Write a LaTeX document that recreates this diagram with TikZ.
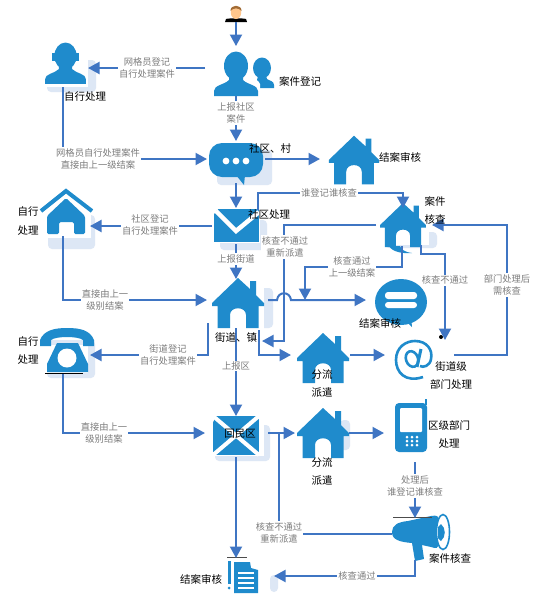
\documentclass[tikz,border=0pt]{standalone}
\usepackage{fontspec}
\setmainfont{Noto Sans CJK SC}
\usetikzlibrary{arrows.meta}
\definecolor{ic}{HTML}{1F8BCC}
\definecolor{ln}{HTML}{3F75C3}
\definecolor{sh}{HTML}{DDE7F5}
\definecolor{gt}{HTML}{7C7C7C}
\tikzset{
  conn/.style={draw=ln,line width=2pt,line join=miter},
  arr/.style={conn,-{Triangle[length=11.5pt,width=12pt]}},
  glabel/.style={text=gt,fill=white,inner sep=1.2pt,align=center,font=\fontsize{9.3}{12.6}\selectfont},
  blabel/.style={text=black,inner sep=0pt,align=center,font=\fontsize{10.5}{18}\selectfont},
  shad/.style={fill=sh,rounded corners=4pt,draw=none},
  blk/.style={fill=white,draw=none},
  icon/.style={fill=ic,draw=none}
}
\newcommand{\houseicon}[3]{% cx cy scale
 \begin{scope}[shift={(#1,#2)},scale=#3]
  \fill[ic] (0,-25) -- (12,-14) -- (12,-22) -- (18,-22) -- (18,-8) -- (26,0) -- (26,3) -- (20.5,3) -- (20.5,25) -- (8,25) -- (8,12) .. controls (8,3) and (-8,3) .. (-8,12) -- (-8,25) -- (-20.5,25) -- (-20.5,3) -- (-26,3) -- (-26,0) -- cycle;
 \end{scope}}
\newcommand{\personicon}[3]{%
 \begin{scope}[shift={(#1,#2)},scale=#3]
  \fill[ic] (0,14) ellipse (12 and 14.5);
  \fill[ic] (-22,44) -- (-22,39) .. controls (-22,33) and (-12,33) .. (-7,28) -- (-7,20) -- (7,20) -- (7,28) .. controls (12,33) and (22,33) .. (22,39) -- (22,44) -- cycle;
 \end{scope}}
\begin{document}
\begin{tikzpicture}[x=1pt,y=-1pt]
\useasboundingbox (0,0) rectangle (538,595);
\fill[white] (0,0) rectangle (538,595);

% shadows
\fill[shad] (47,60) rectangle (96,92);
\fill[shad] (217,150) rectangle (272,185);
\fill[shad] (48,215) rectangle (95,249);
\fill[shad] (220,220) rectangle (267,250);
\fill[shad] (385,232) rectangle (437,248);
\fill[shad] (215,288) rectangle (273,328);
\fill[shad] (47,340) rectangle (95,378);
\fill[shad] (215,425) rectangle (270,461);
\fill[shad] (340,420) rectangle (350,450);
\fill[shad] (270,575) rectangle (278,592);

% white cut-outs behind icons
\fill[blk] (44,38) rectangle (88,87);
\fill[blk] (44,208) rectangle (91,238);
\fill[blk] (44,345) rectangle (88,373);
\fill[blk] (206,278) rectangle (264,330);
\fill[blk] (211,416) rectangle (264,456);
\fill[blk] (211,209) rectangle (260,243);
\fill[blk] (380,210) rectangle (429,245);

% top person
\fill[black] (225,22) -- (226,19) .. controls (230,18) and (242,18) .. (246,19) -- (247,22) -- cycle;
\fill[orange!45!white] (236,12.5) ellipse (5.2 and 6.5);
\fill[brown!85!black] (230.5,11) .. controls (230,4) and (242,4) .. (241.5,11) .. controls (239,7.5) and (233,7.5) .. (230.5,11) -- cycle;

% two persons
\fill[ic] (262,68) ellipse (9 and 10.5);
\fill[ic] (255,88) -- (258,76) -- (266,76) -- (267,79) .. controls (270,81) and (274,81) .. (274,85) -- (274,88) -- cycle;
\fill[white] (214,97) -- (214,85) .. controls (224,80) and (232,78) .. (232,72) -- (240,72) .. controls (246,76) and (258,78) .. (260,84) -- (260,97) -- cycle;
\personicon{236}{52}{1}
% grid person with headset
\personicon{65.5}{43}{.93}
\fill[ic] (52,53) rectangle (55,61); \fill[ic] (76,53) rectangle (79,61);

% chat bubble
\fill[ic,rounded corners=13pt] (209,143) rectangle (263,177);
\fill[ic] (236,175) -- (245,175) -- (244,185) -- cycle;
\foreach \x in {226,236,246}{\fill[white] (\x,161) circle (3.4);}

% result house
\houseicon{354}{160}{0.97}
% envelope
\fill[ic] (214,209) rectangle (259,242);
\fill[white] (213,208) -- (219,208) -- (214,214) -- cycle;
\draw[white,line width=4.5pt] (216,211) -- (236,231) -- (259,212);
% outline house
\draw[ic,line width=4pt] (41,211) -- (66,191) -- (92,211);
\fill[ic,rounded corners=1.5pt] (66,198) -- (85,216) -- (85,234) -- (74,234) -- (74,222) -- (59,222) -- (59,234) -- (47,234) -- (47,216) -- cycle;
% check house
\houseicon{403}{225}{0.88}
\fill[ic] (389,246) .. controls (392,252) and (404,254) .. (412,253) .. controls (404,252) and (401,249) .. (400,246) -- cycle;
% street house
\houseicon{238}{303}{1}
% chat2
\fill[ic] (401,302) ellipse (26 and 23);
\fill[ic] (405,320) -- (412,327) -- (411,317) -- cycle;
\fill[white,rounded corners=3pt] (385,292) rectangle (417,299);
\fill[white,rounded corners=3pt] (385,302) rectangle (417,308);
% split houses
\houseicon{323}{358}{1}
\houseicon{323}{433}{1}
% @ sign
\draw[ic,line width=2.6pt] (423,377) .. controls (405,383) and (396,372) .. (396,360) .. controls (396,347) and (406,341) .. (415,341) .. controls (427,341) and (433,350) .. (431,359) .. controls (430,366) and (423,368) .. (420,366);
\draw[ic,line width=2.6pt,rotate around={20:(412,359)}] (412,359) ellipse (6 and 8);
\draw[ic,line width=3pt] (421,349) -- (417,367);
% telephone
\fill[ic] (40,346) -- (40,340) .. controls (44,330) and (55,328) .. (67,328) .. controls (80,328) and (90,330) .. (94,340) -- (94,346) -- (83,346) -- (83,340) .. controls (78,336) and (56,336) .. (51,340) -- (51,346) -- cycle;
\fill[ic] (57,343) -- (78,343) -- (88,364) -- (88,372) -- (47,372) -- (47,364) -- cycle;
\fill[white] (67,358) circle (9.5);
\draw[black,line width=.4pt] (45,373) -- (83,373);
% x envelope
\fill[ic] (213,416) rectangle (259,455);
\draw[white,line width=4pt] (213,416) -- (259,455);
\draw[white,line width=4pt] (259,416) -- (213,455);
\fill[white] (213,416) -- (214,420) -- (213,422) -- cycle;
% mobile
\fill[ic,rounded corners=4pt] (395,403) rectangle (427,452);
\fill[ic] (425,399) rectangle (427,405);
\fill[white,rounded corners=1pt] (400,408) rectangle (422,432);
\foreach \x in {407,412,417}\foreach \y in {437,441,445}{\fill[white] (\x,\y) circle (1.5);}
% megaphone
\draw[ic,line width=1.6pt,fill=white] (443,532) ellipse (6.5 and 17.5);
\fill[ic] (392,532) .. controls (392,525) and (398,522) .. (408,521) -- (431,516) .. controls (437,515) and (439,516) .. (438,520) .. controls (436,528) and (436,538) .. (438,544) .. controls (439,548) and (436,549) .. (431,547) -- (422,545) -- (424,559) -- (415,561) -- (412,543) .. controls (400,542) and (392,540) .. (392,532) -- cycle;
\fill[ic] (441,524) .. controls (446,528) and (446,537) .. (441,541) -- (438,538) -- (438,527) -- cycle;
\draw[black!70,line width=.4pt] (393,517) -- (432,517);
% document
\fill[ic] (228,561) rectangle (230.5,584);
\fill[ic] (229.2,588) circle (1.5);
\fill[ic] (234,562) -- (250,562) -- (251,568) -- (258,570) -- (258,593) -- (234,593) -- cycle;
\foreach \y in {572,577,582,587}{\fill[white] (238,\y) rectangle (254,\y+2.4);}
\draw[black!70,line width=.4pt] (227,557) -- (247,557);

% connector points
\coordinate (top) at (236,22); \coordinate (perT) at (236,46);
\coordinate (perL) at (205,68); \coordinate (gridR) at (88,68);
\coordinate (perB) at (236,96); \coordinate (chatT) at (236,141);
\coordinate (gridB) at (63,87); \coordinate (g1) at (63,159); \coordinate (chatL) at (207,159);
\coordinate (chatR) at (265,159); \coordinate (resL) at (320,159);
\coordinate (chatB) at (236,183); \coordinate (envT) at (236,208);
\coordinate (envUp) at (258,210); \coordinate (e1) at (258,193); \coordinate (e2) at (403,193); \coordinate (chkT) at (403,208);
\coordinate (envL) at (212,226); \coordinate (ohR) at (90,226);
\coordinate (envB) at (236,244); \coordinate (strT) at (236,279);
\coordinate (ohB) at (63,236); \coordinate (o1) at (63,300); \coordinate (strL) at (207,300);
\coordinate (chkL) at (376,225); \coordinate (c1) at (284,225); \coordinate (c2) at (284,341); \coordinate (strR2) at (262,341);
\coordinate (chkB) at (402,246); \coordinate (c3) at (402,267); \coordinate (c4) at (305,267); \coordinate (c5) at (305,300);
\coordinate (chkB2) at (421,245); \coordinate (c6) at (421,254); \coordinate (c7) at (445,254); \coordinate (atT) at (445,340);
\coordinate (strR) at (268,300); \coordinate (h1) at (277,300); \coordinate (h2) at (291,300); \coordinate (ch2L) at (366,300);
\coordinate (strB2) at (259,330); \coordinate (s1) at (259,355); \coordinate (splL) at (291,355);
\coordinate (splR) at (350,355); \coordinate (atL) at (385,355);
\coordinate (atR) at (454,355); \coordinate (a1) at (507,355); \coordinate (a2) at (507,225); \coordinate (chkR) at (432,225);
\coordinate (strLB) at (208,323); \coordinate (s2) at (208,355); \coordinate (telR) at (90,355);
\coordinate (telB) at (63,374); \coordinate (t1) at (63,433); \coordinate (xL) at (205,433);
\coordinate (strB) at (236,328); \coordinate (xT) at (236,416);
\coordinate (xR) at (268,433); \coordinate (spl2L) at (295,433);
\coordinate (spl2R) at (349,433); \coordinate (mobL) at (384,433);
\coordinate (mobB) at (415,462); \coordinate (megT) at (415,518);
\coordinate (megL) at (392,534); \coordinate (m1) at (279,534); \coordinate (m2) at (279,433);
\coordinate (xB) at (236,457); \coordinate (docT) at (236,558);
\coordinate (megB) at (415,560); \coordinate (m3) at (415,576); \coordinate (docR) at (274,576);

% connectors
\fill[black] (441,337) circle (2);
\draw[arr] (top) -- (perT);
\draw[arr] (perL) -- (gridR);
\draw[arr] (perB) -- (chatT);
\draw[arr] (gridB) -- (g1) -- (chatL);
\draw[arr] (chatR) -- (resL);
\draw[arr] (chatB) -- (envT);
\draw[arr] (envUp) -- (e1) -- (e2) -- (chkT);
\draw[arr] (envL) -- (ohR);
\draw[arr] (envB) -- (strT);
\draw[arr] (ohB) -- (o1) -- (strL);
\draw[arr] (chkL) -- (c1) -- (c2) -- (strR2);
\draw[arr] (chkB) -- (c3) -- (c4) -- (c5);
\draw[arr] (chkB2) -- (c6) -- (c7) -- (atT);
\draw[arr] (strR) -- (h1) .. controls (278,291) and (290,291) .. (h2) -- (ch2L);
\draw[arr] (strB2) -- (s1) -- (splL);
\draw[arr] (splR) -- (atL);
\draw[arr] (atR) -- (a1) -- (a2) -- (chkR);
\draw[arr] (strLB) -- (s2) -- (telR);
\draw[arr] (telB) -- (t1) -- (xL);
\draw[arr] (strB) -- (xT);
\draw[arr] (xR) -- (spl2L);
\draw[arr] (spl2R) -- (mobL);
\draw[arr] (mobB) -- (megT);
\draw[conn] (megL) -- (m1) -- (m2);
\draw[arr] (xB) -- (docT);
\draw[arr] (megB) -- (m3) -- (docR);

% grey labels
\node[glabel] (l1) at (147,68) {网格员登记\\自行处理案件};
\node[glabel] (l2) at (236,113) {上报社区\\案件};
\node[glabel] (l3) at (98,159) {网格员自行处理案件\\直接由上一级结案};
\node[glabel] (l4) at (329,193) {谁登记谁核查};
\node[glabel] (l5) at (150,225) {社区登记\\自行处理案件};
\node[glabel] (l6) at (285,247) {核查不通过\\重新派遣};
\node[glabel] (l7) at (236,259) {上报街道};
\node[glabel] (l8) at (352,267) {核查通过\\上一级结案};
\node[glabel] (l9) at (445,280) {核查不通过};
\node[glabel] (l10) at (507,285) {部门处理后\\需核查};
\node[glabel] (l11) at (105,300) {直接由上一\\级别结案};
\node[glabel] (l12) at (168,355) {街道登记\\自行处理案件};
\node[glabel] (l13) at (236,366) {上报区};
\node[glabel] (l14) at (104,433) {直接由上一\\级别结案};
\node[glabel] (l15) at (415,486) {处理后\\谁登记谁核查};
\node[glabel] (l16) at (279,533) {核查不通过\\重新派遣};
\node[glabel] (l17) at (357,576) {核查通过};

% black labels
\node[blabel] (b1) at (85,97) {自行处理};
\node[blabel] (b2) at (300,81) {案件登记};
\node[blabel] (b3) at (270,148) {社区、村};
\node[blabel] (b4) at (400,157) {结案审核};
\node[blabel] (b5) at (435,210) {案件\\核查};
\node[blabel] (b6) at (269,214) {社区处理};
\node[blabel] (b7) at (28,221) {自行\\处理};
\node[blabel] (b8) at (380,323) {结案审核};
\node[blabel] (b9) at (236,337) {街道、镇};
\node[blabel] (b10) at (28,350) {自行\\处理};
\node[blabel] (b11) at (322,384) {分流\\派遣};
\node[blabel] (b12) at (451,375) {街道级\\部门处理};
\node[blabel] (b13) at (240,434) {回民区};
\node[blabel] (b14) at (322,472) {分流\\派遣};
\node[blabel] (b15) at (449,434) {区级部门\\处理};
\node[blabel] (b16) at (450,558) {案件核查};
\node[blabel] (b17) at (201,579) {结案审核};
\end{tikzpicture}
\end{document}
